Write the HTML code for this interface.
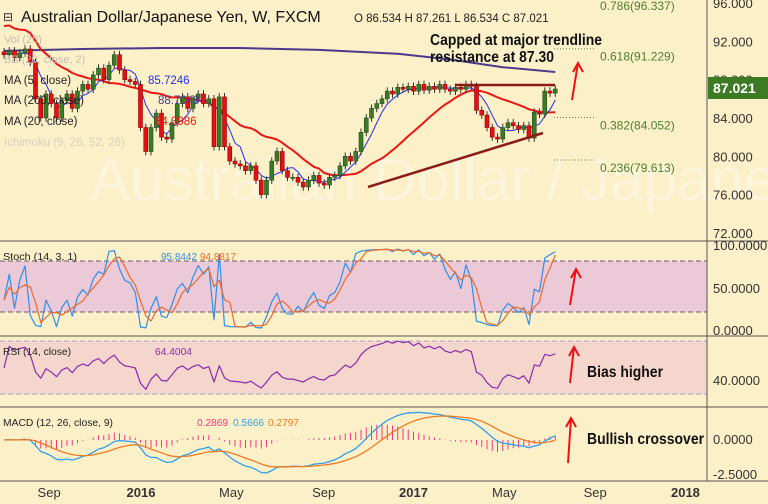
<!DOCTYPE html>
<html><head><meta charset="utf-8"><style>
html,body{margin:0;padding:0;background:#fcf0c9;}
svg{display:block;font-family:"Liberation Sans",sans-serif;}
</style></head><body>
<svg id="c" width="768" height="504" viewBox="0 0 768 504">
<rect x="0" y="0" width="768" height="504" fill="#fcf0c9"/>
<defs>
<clipPath id="cm"><rect x="0" y="0" width="707" height="241"/></clipPath>
<clipPath id="cs"><rect x="0" y="242" width="707" height="93"/></clipPath>
<clipPath id="cr"><rect x="0" y="337" width="707" height="69"/></clipPath>
<clipPath id="cd"><rect x="0" y="408" width="707" height="72"/></clipPath>
</defs>
<text x="90" y="200" font-size="60" fill="#ffffff" opacity="0.35">Australian Dollar / Japanese Yen</text>
<rect x="0" y="261" width="707" height="51" fill="#ebc9d6"/>
<rect x="0" y="341" width="707" height="53" fill="#f5d6cc"/>
<g id="grid"></g>
<g id="main" clip-path="url(#cm)"></g>
<g id="stoch" clip-path="url(#cs)"></g>
<g id="rsi" clip-path="url(#cr)"></g>
<g id="macd" clip-path="url(#cd)"></g>
<g id="axes"></g>
</svg>
<script>
const closes=[90.6,91.0,90.3,90.8,91.2,89.8,86.0,84.0,86.5,85.5,
84.0,85.8,86.5,85.0,86.8,87.5,87.0,88.5,89.2,88.0,
89.5,90.6,89.0,88.0,87.8,87.5,83.0,80.5,83.0,84.5,
82.0,81.8,83.5,85.5,86.2,85.0,86.0,86.5,85.5,86.0,
81.0,86.2,81.0,79.5,79.2,79.0,78.5,79.0,77.5,76.0,
77.5,79.5,80.5,78.5,77.8,77.8,77.3,76.8,77.5,78.0,
77.2,77.0,77.8,78.0,79.0,80.0,79.5,80.5,82.5,84.0,
85.0,85.5,86.0,86.8,86.5,87.2,87.0,87.3,86.8,87.5,
86.9,87.3,87.0,87.5,87.0,86.8,87.2,87.0,87.5,87.3,
84.8,84.3,83.0,82.0,81.8,83.0,83.5,83.2,82.8,83.2,
81.9,84.6,84.4,86.8,86.6,87.02];
const ma200Idx=[0,15,30,45,60,75,85,95,105];
const ma200Vals=[91.0,91.2,91.3,91.3,91.1,90.7,90.1,89.3,88.8];
const priceTicks=[96,92,88,84,80,76,72];
const monthLabels=["Sep","2016","May","Sep","2017","May","Sep","2018"];
const monthWeeks=[-17.6,0,17.3,35,52.2,69.6,87,104.3];
const fibLevels=[0.786,0.618,0.382,0.236];
const fibPrices=[96.337,91.229,84.052,79.613];

const NS="http://www.w3.org/2000/svg";
const X0=4,STEP=5.25;
const xs=i=>X0+i*STEP;
const yP=p=>3+(96-p)*9.58;
const yS=v=>331-v*0.85;
const yR=v=>381-(v-40)*1.3;
const yM=v=>440-v*14;
const xWeek=w=>141+w*5.22;
function el(tag,attrs,parent,txt){const e=document.createElementNS(NS,tag);for(const k in attrs)e.setAttribute(k,attrs[k]);if(txt!==undefined)e.textContent=txt;parent.appendChild(e);return e;}
const G=id=>document.getElementById(id);
const n=closes.length;
const opens=closes.map((c,i)=>i?closes[i-1]:c+0.3);
const highs=closes.map((c,i)=>Math.max(c,opens[i])+0.4);
const lows=closes.map((c,i)=>Math.min(c,opens[i])-0.4);
function sma(a,p){return a.map((v,i)=>{const s=a.slice(Math.max(0,i-p+1),i+1);return s.reduce((x,y)=>x+y,0)/s.length;});}
function ema(a,p){const k=2/(p+1);let e=a[0];return a.map(v=>e=v*k+e*(1-k));}
function poly(g,pts,col,w,name){const l=el('polyline',{points:pts.map(p=>p[0].toFixed(1)+','+p[1].toFixed(1)).join(' '),fill:'none',stroke:col,'stroke-width':w,'stroke-linejoin':'round'},g);return l;}

const grid=G('grid');
[[261,'#6a5a6a'],[312,'#6a5a6a'],[341,'#a8a0c8'],[394,'#a8a0c8']].forEach(([y,c])=>{const l=el('line',{x1:0,x2:707,y1:y,y2:y,stroke:c,'stroke-dasharray':'5,3','stroke-width':1},grid);});

const main=G('main');
poly(main,ma200Idx.map((i,k)=>[xs(i),yP(ma200Vals[k])]),'#4a3a8c',2,'ma200-line');
const ma20=sma(closes,20);
poly(main,closes.map((c,i)=>[xs(i),yP(ma20[i]+(i<20?(20-i)*0.15:0))]),'#ee1515',2,'ma20-line');
const ma5=sma(closes,5);
poly(main,closes.map((c,i)=>[xs(i),yP(ma5[i])]),'#2030f0',1,'ma5-line');
for(let i=0;i<n;i++){
  const up=closes[i]>=opens[i];const x=xs(i);
  const w=el('line',{x1:x,x2:x,y1:yP(highs[i]),y2:yP(lows[i]),stroke:'#333','stroke-width':1},main);
  
  const t=yP(Math.max(opens[i],closes[i])),b=yP(Math.min(opens[i],closes[i]));
  const r=el('rect',{x:x-2,y:t,width:4,height:Math.max(1,b-t),fill:up?'#3c7a2a':'#e01212',stroke:up?'#24501a':'#900','stroke-width':0.6},main);
  
}
let tl=el('line',{x1:455,y1:85,x2:555,y2:85,stroke:'#8b1a1a','stroke-width':2.5},main);

tl=el('line',{x1:368,y1:187,x2:543,y2:133,stroke:'#8b1a1a','stroke-width':2.5},main);

fibPrices.forEach((p,k)=>{const y=yP(p);
  if(k>0){const l=el('line',{x1:554,x2:596,y1:y,y2:y,stroke:'#5a8a3a','stroke-dasharray':'1,2'},main);}
  const t=el('text',{x:600,y:(k==0?10:y+12),'font-size':12,fill:'#4d8030'},main,fibLevels[k].toFixed(3).replace(/0+$/,'')+'('+p.toFixed(3)+')');
  });

const kP=14;const K=closes.map((c,i)=>{const s=Math.max(0,i-kP+1);const hh=Math.max(...highs.slice(s,i+1)),ll=Math.min(...lows.slice(s,i+1));return (c-ll)/(hh-ll)*100;});
const D=sma(K,3);
const st=G('stoch');
poly(st,K.map((v,i)=>[xs(i),yS(v)]),'#2f8ff0',1.2,'stoch-k-line');
poly(st,D.map((v,i)=>[xs(i),yS(v)]),'#f06a2a',1.2,'stoch-d-line');

let ag=0,al=0;const rsi=closes.map((c,i)=>{if(i==0)return 50;const d=c-closes[i-1];const g=Math.max(d,0),l=Math.max(-d,0);if(i==1){ag=g+0.4;al=l+0.4;}else{ag=(ag*13+g)/14;al=(al*13+l)/14;}return 100-100/(1+ag/al);});
poly(G('rsi'),rsi.map((v,i)=>[xs(i),yR(v)]),'#8a2ab0',1.2,'rsi-line');

const e12=ema(closes,12),e26=ema(closes,26);const macd=e12.map((v,i)=>v-e26[i]);const sig=ema(macd,9);
const md=G('macd');
macd.forEach((v,i)=>{const h=(v-sig[i]);const l=el('line',{x1:xs(i),x2:xs(i),y1:yM(0),y2:yM(h),stroke:'#f03a7a','stroke-width':1},md);});
poly(md,macd.map((v,i)=>[xs(i),yM(v)]),'#2f9ff0',1.3,'macd-line');
poly(md,sig.map((v,i)=>[xs(i),yM(v)]),'#f07a20',1.3,'macd-signal-line');

const ax=G('axes');
[[707,0,707,481],[0,241,768,241],[0,336,768,336],[0,407,768,407],[0,481,768,481]].forEach(a=>{const l=el('line',{x1:a[0],y1:a[1],x2:a[2],y2:a[3],stroke:'#555','stroke-width':1},ax);});
priceTicks.forEach(p=>{const t=el('text',{x:713,y:yP(p)+5,'font-size':13,fill:'#333'},ax,p.toFixed(3));});
[['100.0000',250],['50.0000',293],['0.0000',335],['40.0000',385],['0.0000',444],['-2.5000',479]].forEach(([s,y])=>{const t=el('text',{x:713,y:y,'font-size':13,fill:'#333'},ax,s);});
let pb=el('rect',{x:708,y:77,width:60,height:22,fill:'#3d7a24'},ax);
let pt=el('text',{x:713,y:93,'font-size':14,'font-weight':'bold',fill:'#fff'},ax,'87.021');
monthLabels.forEach((m,k)=>{const t=el('text',{x:xWeek(monthWeeks[k]),y:497,'font-size':13,fill:'#333','text-anchor':'middle','font-weight':/^\d/.test(m)?'bold':'normal'},ax,m);});

function T(x,y,s,txt,attrs,name,inter){const t=el('text',Object.assign({x:x,y:y,'font-size':s},attrs||{}),ax,txt);return t;}
T(3,21,12,'⊟',{fill:'#333'},'collapse-button',true);
T(21,22,16,'Australian Dollar/Japanese Yen, W, FXCM',{fill:'#111'},'chart-title',false);
T(354,22,11.5,'O 86.534 H 87.261 L 86.534 C 87.021',{fill:'#222'},'ohlc-readout',false);
T(4,43,11,'Vol (20)',{fill:'#c8c0b0'},'vol-legend',true);
T(4,63,11,'BB (20, close, 2)',{fill:'#c8c0b0'},'bb-legend',true);
T(4,84,11.5,'MA (5, close)',{fill:'#222'},'ma5-legend',true);
T(148,84,11.5,'85.7246',{fill:'#2030f0'},'ma5-value',false);
T(4,104,11.5,'MA (200, close)',{fill:'#222'},'ma200-legend',true);
T(158,104,11.5,'88.7049',{fill:'#4a3a8c'},'ma200-value',false);
T(4,125,11.5,'MA (20, close)',{fill:'#222'},'ma20-legend',true);
T(155,125,11.5,'84.3986',{fill:'#ee1515'},'ma20-value',false);
T(4,146,11.5,'Ichimoku (9, 26, 52, 26)',{fill:'#d8d0c0'},'ichimoku-legend',true);
T(430,45,16,'Capped at major trendline',{fill:'#111','font-weight':'bold',textLength:172,lengthAdjust:'spacingAndGlyphs'},'annotation-capped-1',false);
T(430,62,16,'resistance at 87.30',{fill:'#111','font-weight':'bold',textLength:124,lengthAdjust:'spacingAndGlyphs'},'annotation-capped-2',false);
T(3,260,10,'Stoch (14, 3, 1)',{fill:'#222',textLength:74,lengthAdjust:'spacingAndGlyphs'},'stoch-legend',true);
T(161,260,10,'95.8442',{fill:'#2f8ff0',textLength:36,lengthAdjust:'spacingAndGlyphs'},'stoch-k-value',false);
T(200,260,10,'94.8817',{fill:'#f06a2a',textLength:36,lengthAdjust:'spacingAndGlyphs'},'stoch-d-value',false);
T(3,355,10,'RSI (14, close)',{fill:'#222',textLength:68,lengthAdjust:'spacingAndGlyphs'},'rsi-legend',true);
T(155,355,10,'64.4004',{fill:'#8a2ab0',textLength:37,lengthAdjust:'spacingAndGlyphs'},'rsi-value',false);
T(3,426,10,'MACD (12, 26, close, 9)',{fill:'#222',textLength:110,lengthAdjust:'spacingAndGlyphs'},'macd-legend',true);
T(197,426,10,'0.2869',{fill:'#f03a7a',textLength:31,lengthAdjust:'spacingAndGlyphs'},'macd-hist-value',false);
T(233,426,10,'0.5666',{fill:'#2f9ff0',textLength:31,lengthAdjust:'spacingAndGlyphs'},'macd-value',false);
T(268,426,10,'0.2797',{fill:'#f07a20',textLength:31,lengthAdjust:'spacingAndGlyphs'},'macd-signal-value',false);
T(587,377,16,'Bias higher',{fill:'#111','font-weight':'bold',textLength:76,lengthAdjust:'spacingAndGlyphs'},'annotation-bias',false);
T(587,444,16,'Bullish crossover',{fill:'#111','font-weight':'bold',textLength:117,lengthAdjust:'spacingAndGlyphs'},'annotation-crossover',false);
[[572,100,578,63,'main-arrow'],[570,305,576,269,'stoch-arrow'],[570,383,574,347,'rsi-arrow'],[568,463,571,418,'macd-arrow']].forEach(a=>{
  const g=el('g',{stroke:'#ee1111','stroke-width':2,fill:'none'},ax);
  el('line',{x1:a[0],y1:a[1],x2:a[2],y2:a[3]},g);
  el('polyline',{points:`${a[2]-5},${a[3]+9} ${a[2]},${a[3]} ${a[2]+5},${a[3]+9}`},g);
});
</script>
</body></html>
